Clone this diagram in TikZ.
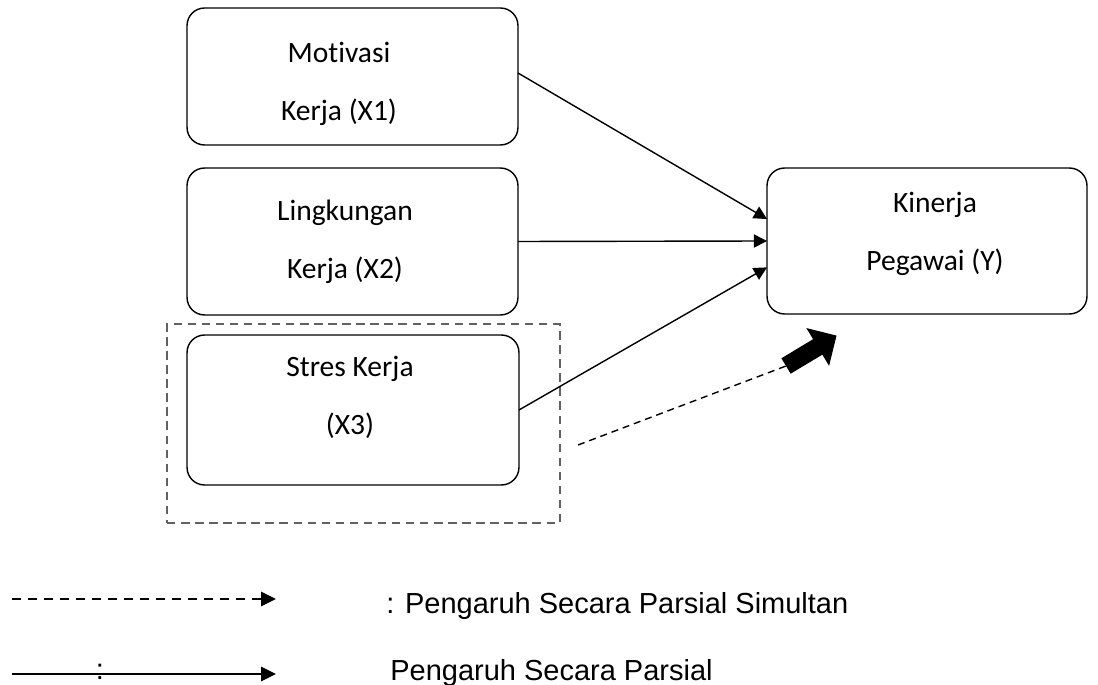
\documentclass[tikz,border=0pt]{standalone}
\usepackage{fontspec}
\setmainfont{Carlito}[Ligatures=NoCommon]
\newfontfamily\legfont{Liberation Sans}
\usetikzlibrary{arrows.meta,positioning}

\begin{document}
\begin{tikzpicture}[x=0.02cm, y=-0.02cm, >={Triangle[length=7.5pt,width=7.5pt]},
  box/.style={draw, rounded corners=10pt, line width=0.8pt, inner sep=0pt, outer sep=0pt},
  txt/.style={align=center, font=\fontsize{16.8}{33}\selectfont},
  grp/.style={draw=black!62, line width=1.3pt, dash pattern=on 4.8pt off 3.2pt, inner sep=0pt},
  conn/.style={->, line width=0.8pt},
  leg/.style={inner sep=0pt, font=\legfont\fontsize{16.5}{20}\selectfont},
  legline/.style={line width=1.6pt, -{Triangle[length=8.5pt,width=8pt]}}]
\useasboundingbox (0,0) rectangle (1098,685);

% variabel bebas
\node[box, minimum width=6.62cm, minimum height=2.74cm] (x1) at (352.5,76.5) {};
\node[txt] (x1t) at (339,84) {Motivasi\\Kerja (X1)};
\node[box, minimum width=6.62cm, minimum height=2.94cm] (x2) at (352.5,241.5) {};
\node[txt] (x2t) at (345,242) {Lingkungan\\Kerja (X2)};
\node[box, minimum width=6.64cm, minimum height=3.0cm] (x3) at (353,410) {};
\node[txt] (x3t) at (350,397) {Stres Kerja\\(X3)};
\node[grp, minimum width=7.86cm, minimum height=3.98cm] (grp) at (363.5,423.5) {};

% variabel terikat
\node[box, minimum width=6.4cm, minimum height=2.92cm] (y) at (927,241) {};
\node[txt] (yt) at (935,234) {Kinerja\\Pegawai (Y)};

\draw[conn] ([yshift=2pt]x1.east) -- ([yshift=12.5pt]y.west);
\draw[conn] (x2.east) -- (y.west);
\draw[conn] (x3.east) -- ([yshift=-15pt]y.west);

% pengaruh simultan
\coordinate (dstart) at (578,445);
\coordinate (ftail) at (786,366);
\draw[line width=0.8pt, dash pattern=on 4pt off 2.8pt] (dstart) -- (ftail);
\begin{scope}[shift={(ftail)}, rotate=31]
  \fill (0,-9) -- (37,-9) -- (37,-22) -- (59,0) -- (37,22) -- (37,9) -- (0,9) -- cycle;
\end{scope}

% keterangan
\coordinate (d1) at (12,599);
\coordinate (d2) at (276,599);
\draw[legline, dash pattern=on 5.2pt off 3.9pt] (d1) -- (d2);
\node[leg, anchor=base west] (ket1) at (386,613) {: Pengaruh Secara Parsial Simultan};
\coordinate (s1) at (12,674);
\coordinate (s2) at (276,674);
\draw[legline] (s1) -- (s2);
\node[leg] (colon) at (100,672) {:};
\node[leg, anchor=base west] (ket2) at (390,680) {Pengaruh Secara Parsial};
\end{tikzpicture}
\end{document}
